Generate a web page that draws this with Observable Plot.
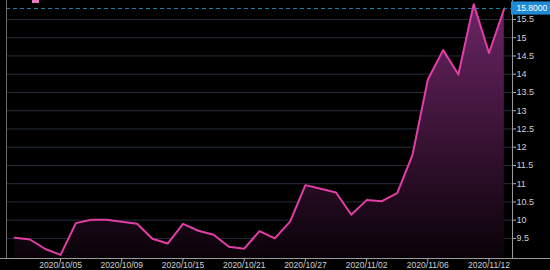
<!DOCTYPE html>
<html>
<head>
<meta charset="utf-8">
<script src="https://cdn.jsdelivr.net/npm/d3@7"></script>
<script src="https://cdn.jsdelivr.net/npm/@observablehq/plot@0.6"></script>
<style>
  html, body { margin: 0; padding: 0; background: #000; }
  #wrap { position: relative; width: 550px; height: 270px; overflow: hidden; }
  #swatch { position: absolute; left: 32px; top: 0; width: 7px; height: 3px; background: #e57ac4; }
  svg { display: block; }
</style>
</head>
<body>
<div id="wrap"><div id="swatch"></div></div>
<script>
const dates = ["2020/09/30","2020/10/01","2020/10/02","2020/10/05","2020/10/06","2020/10/07","2020/10/08","2020/10/09",
  "2020/10/12","2020/10/13","2020/10/14","2020/10/15","2020/10/16","2020/10/19","2020/10/20","2020/10/21",
  "2020/10/22","2020/10/23","2020/10/26","2020/10/27","2020/10/28","2020/10/29","2020/10/30","2020/11/02",
  "2020/11/03","2020/11/04","2020/11/05","2020/11/06","2020/11/09","2020/11/10","2020/11/11","2020/11/12","2020/11/13"];
const prices = [9.52,9.47,9.21,9.05,9.92,10.01,10.01,9.96,
  9.90,9.49,9.36,9.90,9.71,9.60,9.27,9.22,
  9.70,9.50,9.96,10.96,10.86,10.76,10.15,10.55,
  10.52,10.74,11.79,13.85,14.66,13.99,15.92,14.58,15.80];
const xTickIdx = [3,7,11,15,19,23,27,31];
const yTicks = [9.5,10,10.5,11,11.5,12,12.5,13,13.5,14,14.5,15,15.5];
const lastPrice = [15.80];

const data = prices.map((v, i) => ({i, date: dates[i], v}));
const xDom = [-0.535, prices.length - 1 + 0.535];
const yDom = [8.95, 16.02];
const font = "'Liberation Sans Narrow', 'Arial Narrow', 'Liberation Sans', Arial, sans-serif";

const chart = Plot.plot({
  width: 550,
  height: 270,
  marginLeft: 6,
  marginRight: 38,
  marginTop: 0,
  marginBottom: 12,
  style: {background: "#000", fontFamily: font},
  x: {domain: xDom, axis: null},
  y: {domain: yDom, axis: null},
  marks: [
    Plot.gridY(yTicks, {stroke: "#252d3a", strokeOpacity: 1}),
    Plot.areaY(data, {x: "i", y1: yDom[0], y2: "v", fill: "url(#pinkGrad)"}),
    Plot.lineY(data, {x: "i", y: "v", stroke: "#e23ea6", strokeWidth: 2, strokeLinejoin: "round"}),
    Plot.ruleY(lastPrice, {stroke: "#1f7ea3", strokeDasharray: "4,3", strokeWidth: 1}),
    Plot.ruleX([xDom[0]], {stroke: "#6d6d6d"}),
    Plot.ruleX([xDom[1]], {stroke: "#9a9a9a"}),
    Plot.ruleY([yDom[0]], {stroke: "#9a9a9a", insetRight: -38, insetLeft: -6}),
    Plot.axisY({anchor: "right", ticks: yTicks, tickFormat: d => String(d), tickSize: 3, tickPadding: 1,
      stroke: "#b0b0b0", fill: "#d0d0d0", fontSize: 9, label: null}),
    Plot.axisX({anchor: "bottom", ticks: xTickIdx, tickFormat: i => dates[i], tickSize: 3, tickPadding: 0,
      stroke: "#b0b0b0", fill: "#d0d0d0", fontSize: 8.5, label: null}),
    Plot.rect(lastPrice, {x1: xDom[1], x2: xDom[1], y1: d => d - 0.18, y2: d => d + 0.18,
      insetLeft: -1, insetRight: -38, fill: "#1f8bd6"}),
    Plot.text(lastPrice, {x: xDom[1], y: d => d, text: d => d.toFixed(4), textAnchor: "start", dx: 4,
      fill: "#ffffff", fontSize: 8.5})
  ]
});

const svg = d3.select(chart);
const defs = svg.insert("defs", ":first-child");
const g = defs.append("linearGradient").attr("id", "pinkGrad")
  .attr("x1", 0).attr("y1", 0).attr("x2", 0).attr("y2", 1);
g.append("stop").attr("offset", "0%").attr("stop-color", "#6c2565");
g.append("stop").attr("offset", "100%").attr("stop-color", "#0a0208");

document.getElementById("wrap").prepend(chart);
</script>
</body>
</html>
